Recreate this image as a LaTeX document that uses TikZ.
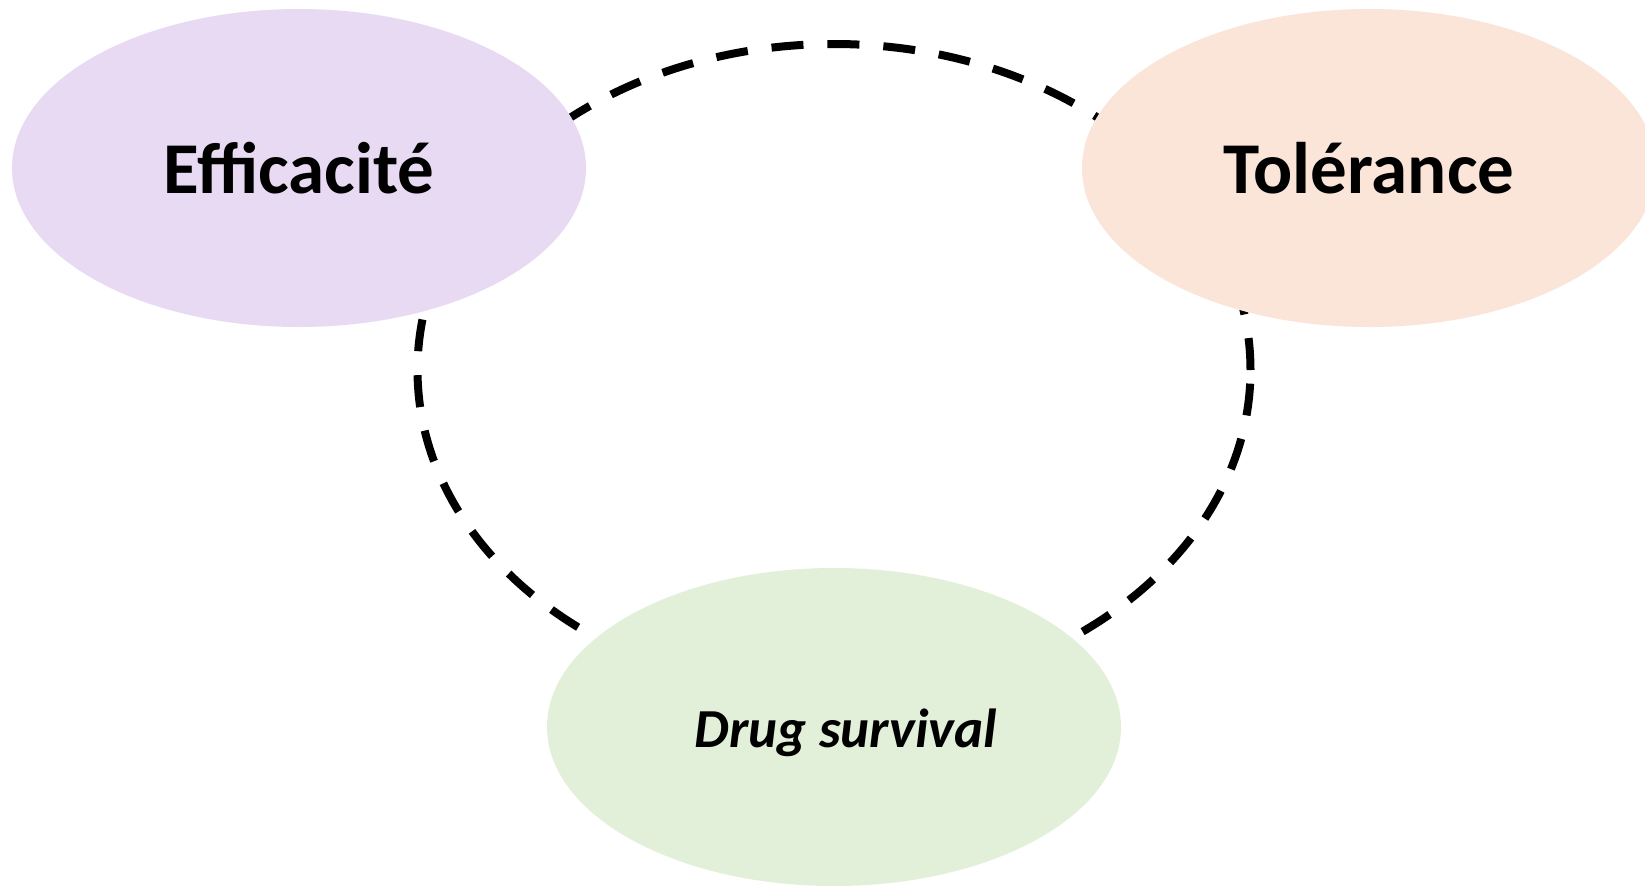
\documentclass[tikz,border=0pt]{standalone}
\usepackage{fontspec}
\setmainfont{Carlito}
\usetikzlibrary{shapes.geometric}
\definecolor{lavender}{HTML}{E7DAF2}
\definecolor{peach}{HTML}{FAE5D8}
\definecolor{mint}{HTML}{E2EFD9}
\tikzset{
  blob/.style={ellipse, draw=none, inner sep=0pt, minimum width=287pt, minimum height=159pt},
  ring/.style={line width=4pt, dash pattern=on 16pt off 12pt},
  bigtxt/.style={font=\fontsize{36.5}{40}\selectfont\bfseries},
  smalltxt/.style={font=\fontsize{27.5}{30}\selectfont\bfseries\itshape}
}
\begin{document}
\begin{tikzpicture}[x=0.5pt,y=-0.5pt]
\useasboundingbox (0,0) rectangle (1645,885);
\clip (0,0) rectangle (1645,885);
\fill[white] (0,0) rectangle (1645,885);
\draw[ring] (834,370) ellipse [x radius=208.25pt, y radius=163pt];
\node[blob, fill=lavender, bigtxt] (eff) at (299,168) {Efficacité};
\node[blob, fill=peach, bigtxt] (tol) at (1369,168) {Tolérance};
\node[blob, fill=mint] (drug) at (834,727) {};
\node[smalltxt, inner sep=0pt] (drugtxt) at (846,733) {Drug survival};
\end{tikzpicture}
\end{document}
